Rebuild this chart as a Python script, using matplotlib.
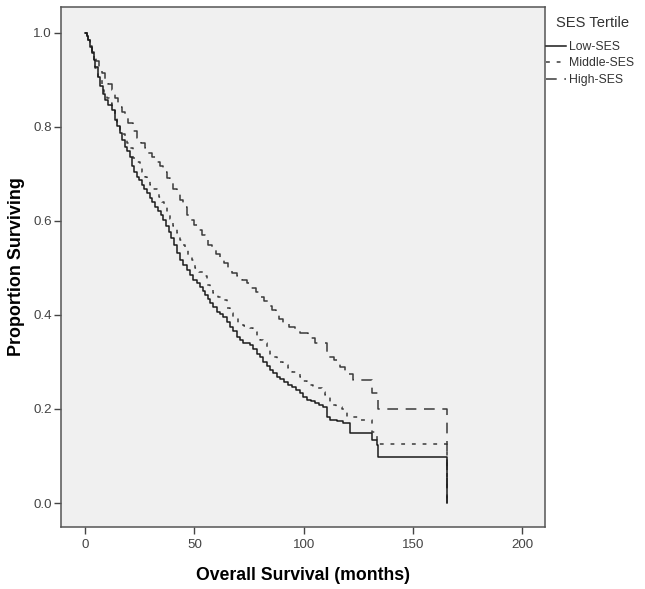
import matplotlib
matplotlib.use("Agg")
import matplotlib.pyplot as plt

plt.rcParams['font.family'] = ['Liberation Sans', 'DejaVu Sans']

# Kaplan-Meier curves (months, proportion surviving)
low_t = [0, 0.8, 1.5, 2.3, 3.1, 3.9, 4.6, 5.8, 6.9, 8, 9.1, 10.6, 12.2, 13.7, 14.8, 16,
         17.1, 18.3, 19.4, 20.6, 21.3, 22.4, 23.6, 24.8, 26, 27.1, 28.2, 29.5, 30.8, 32,
         33.3, 34.5, 35.8, 37, 38.3, 39.5, 40.8, 42.1, 43.4, 45, 46.5, 48, 49.5, 51,
         52.6, 53.7, 54.9, 56, 57.2, 58.7, 60.2, 61.7, 63.2, 64.7, 66.3, 67.8, 69.4,
         70.9, 72.4, 75.4, 77, 78.5, 80, 81.5, 83, 84.6, 86.1, 87.6, 89.3, 91, 92.8,
         94.5, 96.4, 98.3, 99.8, 101.4, 103.3, 105.2, 107.1, 109, 110.5, 112, 115, 118,
         121.2, 131, 133.4, 134, 165.4]
low_s = [1.0, 0.993, 0.985, 0.970, 0.957, 0.942, 0.928, 0.907, 0.886, 0.871, 0.857,
         0.847, 0.836, 0.815, 0.801, 0.787, 0.772, 0.758, 0.748, 0.737, 0.716, 0.705,
         0.694, 0.686, 0.676, 0.667, 0.659, 0.649, 0.640, 0.630, 0.621, 0.612, 0.602,
         0.590, 0.577, 0.563, 0.548, 0.532, 0.517, 0.506, 0.496, 0.485, 0.474, 0.467,
         0.460, 0.451, 0.443, 0.434, 0.425, 0.416, 0.407, 0.402, 0.396, 0.386, 0.375,
         0.365, 0.354, 0.347, 0.340, 0.336, 0.327, 0.318, 0.310, 0.301, 0.292, 0.283,
         0.276, 0.269, 0.263, 0.257, 0.251, 0.246, 0.240, 0.233, 0.226, 0.219, 0.216,
         0.212, 0.209, 0.205, 0.184, 0.177, 0.174, 0.170, 0.148, 0.134, 0.123, 0.098,
         0.0]

mid_t = [0, 0.8, 1.5, 2.3, 3.1, 3.9, 4.6, 6.1, 7.6, 8.7, 9.9, 11, 12.2, 13.7, 14.8, 16,
         17.1, 18.3, 19.4, 20.6, 22.1, 23.6, 25.1, 26.2, 27.4, 28.5, 29.7, 31.2, 32.8,
         33.9, 35.1, 36.2, 37.3, 38.8, 40.4, 41.9, 43.4, 44.5, 45.7, 47.2, 48.8, 50.3,
         52.2, 54.1, 55.6, 57.1, 58.7, 60.6, 62.5, 64.8, 66.3, 67.8, 70.1, 72.7, 75.4,
         77, 78.5, 80, 81.5, 83, 84.6, 86.1, 87.6, 89.1, 90.7, 92.6, 94.5, 96.4, 98.3,
         99.8, 101.4, 104, 106.7, 108.2, 109.7, 112, 114.6, 117.3, 119.6, 125, 131,
         133.4, 165.4]
mid_s = [1.0, 0.994, 0.985, 0.969, 0.953, 0.939, 0.925, 0.902, 0.879, 0.870, 0.861,
         0.851, 0.840, 0.818, 0.806, 0.794, 0.785, 0.776, 0.766, 0.755, 0.733, 0.725,
         0.716, 0.705, 0.694, 0.686, 0.677, 0.668, 0.659, 0.650, 0.641, 0.631, 0.620,
         0.605, 0.590, 0.575, 0.560, 0.549, 0.538, 0.528, 0.517, 0.499, 0.491, 0.482,
         0.464, 0.455, 0.446, 0.439, 0.432, 0.414, 0.405, 0.396, 0.379, 0.376, 0.372,
         0.363, 0.354, 0.347, 0.340, 0.329, 0.318, 0.311, 0.304, 0.299, 0.294, 0.287,
         0.279, 0.274, 0.269, 0.260, 0.251, 0.248, 0.244, 0.237, 0.230, 0.209, 0.205,
         0.201, 0.184, 0.177, 0.150, 0.125, 0.0]

high_t = [0, 0.8, 1.5, 2.3, 3.1, 4, 5, 6.3, 7.6, 9.1, 10.7, 12.2, 13.7, 15.2, 16.7, 18.2,
          19.8, 21.7, 23.6, 25.4, 27.2, 29, 30.8, 32.5, 34.3, 35.8, 37.4, 38.9, 40.4,
          41.9, 43.4, 45, 46.5, 48.3, 50, 51.8, 53.3, 54.9, 56.4, 58.2, 59.9, 61.7, 63.5,
          65.3, 67.1, 69.4, 71.6, 73.9, 75.9, 78, 80, 81.8, 83.5, 85.3, 87.1, 88.9, 90.7,
          93.2, 95.8, 98.3, 101.8, 105.2, 110.5, 114, 116.6, 119, 122.7, 131, 134, 165.4]
high_s = [1.0, 0.994, 0.985, 0.972, 0.960, 0.950, 0.940, 0.927, 0.914, 0.902, 0.891,
          0.879, 0.861, 0.843, 0.831, 0.820, 0.808, 0.792, 0.776, 0.765, 0.755, 0.744,
          0.735, 0.725, 0.716, 0.704, 0.692, 0.680, 0.668, 0.657, 0.645, 0.629, 0.613,
          0.602, 0.592, 0.581, 0.570, 0.560, 0.549, 0.540, 0.530, 0.521, 0.510, 0.500,
          0.489, 0.482, 0.474, 0.467, 0.458, 0.448, 0.439, 0.430, 0.420, 0.411, 0.401,
          0.392, 0.382, 0.375, 0.368, 0.361, 0.350, 0.340, 0.311, 0.304, 0.290, 0.275,
          0.262, 0.234, 0.200, 0.0]

group_names = ['Low-SES', 'Middle-SES', 'High-SES']
x_ticks = [0, 50, 100, 150, 200]
y_ticks = [0.0, 0.2, 0.4, 0.6, 0.8, 1.0]

fig = plt.figure(figsize=(6.45, 5.89), dpi=100)
ax = fig.add_axes([61/645, 62/589, (545-61)/645, (527-7)/589])
ax.set_facecolor('#f0f0f0')

ax.step(high_t, high_s, where='post', color='#3a3a3a', lw=1.1,
        dashes=(7, 5), label=group_names[2])
ax.step(mid_t, mid_s, where='post', color='#3a3a3a', lw=1.1,
        dashes=(2.5, 4.5), label=group_names[1])
ax.step(low_t, low_s, where='post', color='#1a1a1a', lw=1.1,
        label=group_names[0])

ax.set_xlim(-11, 210.3)
ax.set_ylim(-0.051, 1.055)
ax.set_xticks(x_ticks)
ax.set_yticks(y_ticks)
ax.set_yticklabels([f'{v:.1f}' for v in y_ticks])
ax.tick_params(direction='out', length=5, width=1, colors='#444444',
               labelsize=9.6, labelcolor='#444444')
ax.tick_params(axis='y', pad=1.5)
for sp in ax.spines.values():
    sp.set_color('#555555')
    sp.set_linewidth(1.1)

ax.set_xlabel('Overall Survival (months)', fontsize=12.7, fontweight='bold',
              labelpad=12)
ax.set_ylabel('Proportion Surviving', fontsize=12.9, fontweight='bold',
              labelpad=6)

handles, labels = ax.get_legend_handles_labels()
order = [2, 1, 0]
fig.text(556/645, 1 - 23/589, 'SES Tertile', fontsize=10.6, color='#333333',
         ha='left', va='center')
leg = fig.legend([handles[i] for i in order], [labels[i] for i in order],
                 loc='upper left', bbox_to_anchor=(546/645, 1 - 41/589),
                 frameon=False, fontsize=8.8, handlelength=1.6,
                 handletextpad=0.25, labelspacing=0.36, borderpad=0,
                 borderaxespad=0)
for t in leg.get_texts():
    t.set_color('#333333')

fig.savefig('out.png', dpi=100, facecolor='white')
